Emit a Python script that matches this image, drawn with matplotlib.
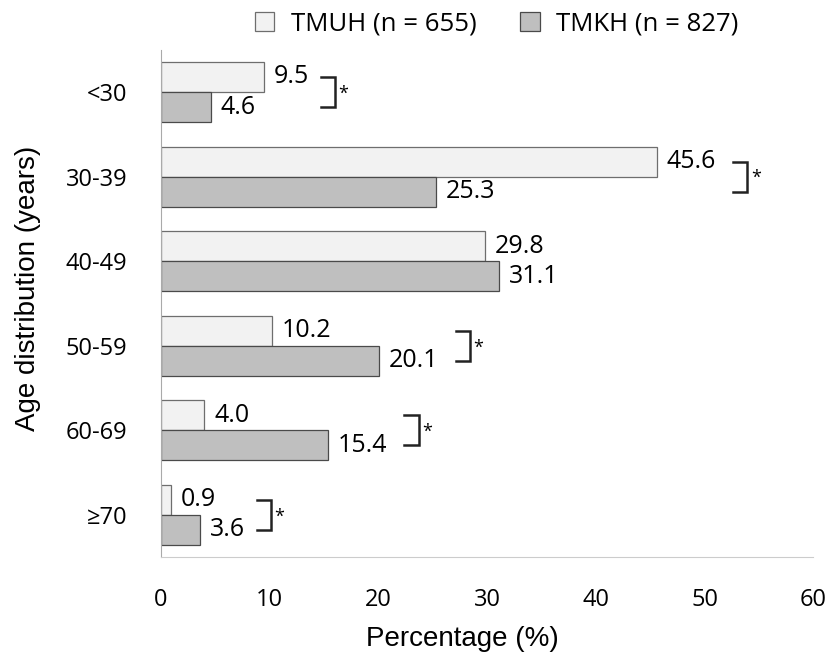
import numpy as np
import matplotlib.pyplot as plt

plt.rcParams['font.family'] = ['Open Sans', 'DejaVu Sans']

# data
age_groups = ["<30", "30-39", "40-49", "50-59", "60-69", "\u226570"]
tmuh = [9.5, 45.6, 29.8, 10.2, 4.0, 0.9]
tmkh = [4.6, 25.3, 31.1, 20.1, 15.4, 3.6]
significant = [True, True, False, True, True, True]
x_ticks = [0, 10, 20, 30, 40, 50, 60]

fig = plt.figure(figsize=(8.29, 6.54), dpi=100)
ax = fig.add_axes([0.194, 0.148, 0.787, 0.776])

y = np.arange(len(age_groups))
h = 0.355
ax.barh(y - h/2, tmuh, height=h, color='#f2f2f2', edgecolor='#6e6e6e', linewidth=0.9,
        label='TMUH (n = 655)')
ax.barh(y + h/2, tmkh, height=h, color='#bfbfbf', edgecolor='#4a4a4a', linewidth=0.9,
        label='TMKH (n = 827)')

for i in range(len(age_groups)):
    ax.text(tmuh[i] + 0.9, y[i] - h/2, f"{tmuh[i]:.1f}", va='center', ha='left', fontsize=18)
    ax.text(tmkh[i] + 0.9, y[i] + h/2, f"{tmkh[i]:.1f}", va='center', ha='left', fontsize=18)
    if significant[i]:
        top = max(tmuh[i], tmkh[i])
        bx = top + (6.5 if top < 12 else 8.3)
        ax.plot([bx - 1.3, bx, bx, bx - 1.3],
                [y[i] - h/2, y[i] - h/2, y[i] + h/2, y[i] + h/2],
                color='#222222', lw=1.8, solid_joinstyle='miter')
        ax.text(bx + 0.35, y[i] + 0.02, '*', fontsize=13, ha='left', va='center')

ax.set_xlim(0, 60)
ax.set_ylim(5.5, -0.5)
ax.set_xticks(x_ticks)
ax.set_yticks(y)
ax.set_yticklabels(age_groups)
ax.tick_params(axis='x', length=0, pad=22, labelsize=17)
ax.tick_params(axis='y', length=0, pad=24, labelsize=17)
for s in ['top', 'right']:
    ax.spines[s].set_visible(False)
ax.spines['left'].set_color('#aaaaaa')
ax.spines['bottom'].set_color('#cccccc')

ax.set_xlabel('Percentage (%)', fontsize=20, family='Liberation Sans')
ax.set_ylabel('Age distribution (years)', fontsize=20, family='Liberation Sans')
ax.xaxis.set_label_coords(0.462, -0.135)
ax.yaxis.set_label_coords(-0.183, 0.53)

ax.legend(loc='lower center', bbox_to_anchor=(0.515, 1.006), ncol=2, frameon=False,
          fontsize=18.5, handlelength=0.75, handleheight=0.75, handletextpad=0.65,
          columnspacing=1.7, borderaxespad=0)

fig.savefig('out.png', dpi=100)
